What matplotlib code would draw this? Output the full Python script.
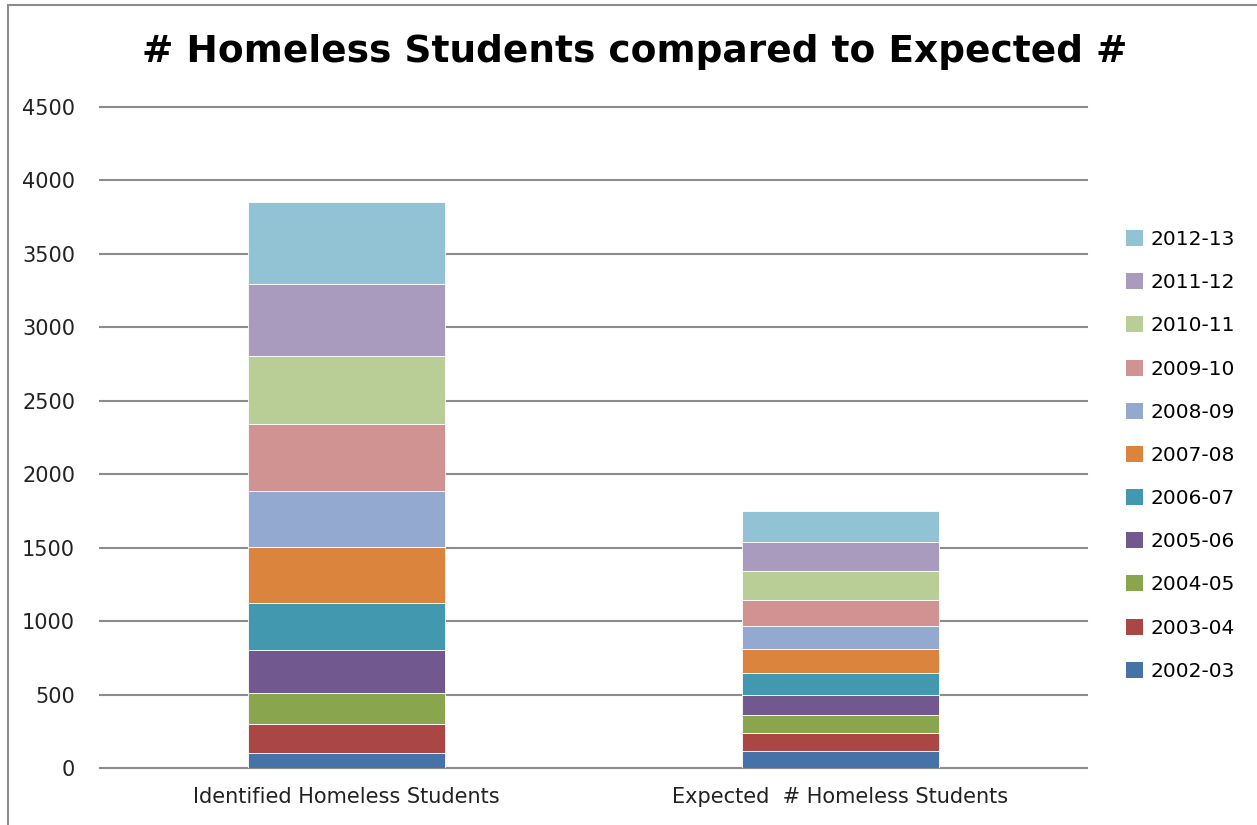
import matplotlib
matplotlib.use("Agg")
import matplotlib.pyplot as plt
from matplotlib.patches import Rectangle, Patch

categories = ["Identified Homeless Students", "Expected  # Homeless Students"]
years = ["2002-03", "2003-04", "2004-05", "2005-06", "2006-07", "2007-08",
         "2008-09", "2009-10", "2010-11", "2011-12", "2012-13"]
identified = [105, 197, 211, 287, 320, 383, 383, 457, 463, 490, 558]
expected = [118, 123, 123, 136, 150, 160, 160, 174, 197, 198, 211]
colors = ["#4572A7", "#AA4643", "#89A54E", "#71588F", "#4198AF", "#DB843D",
          "#93A9CF", "#D19392", "#B9CD96", "#A99BBD", "#92C3D4"]
yticks = [0, 500, 1000, 1500, 2000, 2500, 3000, 3500, 4000, 4500]

W, H = 1257, 825
fig = plt.figure(figsize=(W / 100, H / 100), dpi=100)
fig.patch.set_facecolor("white")

# chart frame
fig.add_artist(Rectangle((8 / W, -0.1), 1.2, (H - 5) / H + 0.1,
                         transform=fig.transFigure, fill=False,
                         edgecolor="#8c8c8c", linewidth=1.5))

ax = fig.add_axes([100 / W, (H - 768) / H, (1087 - 100) / W, (768 - 107) / H])
x = [0, 1]
bottoms = [0, 0]
for i, yr in enumerate(years):
    vals = [identified[i], expected[i]]
    ax.bar(x, vals, width=0.4, bottom=bottoms, color=colors[i],
           edgecolor="white", linewidth=0.6, label=yr, zorder=3)
    bottoms = [bottoms[0] + vals[0], bottoms[1] + vals[1]]

ax.set_xlim(-0.5, 1.5)
ax.set_ylim(0, 4500)
ax.set_yticks(yticks)
ax.set_yticklabels([str(v) for v in yticks], fontsize=15, color="#222222")
ax.set_xticks(x)
ax.set_xticklabels(categories, fontsize=15, color="#222222")
ax.tick_params(axis="y", length=0, pad=18)
ax.tick_params(axis="x", length=0, pad=14)
ax.yaxis.grid(True, color="#8c8c8c", linewidth=1.5, zorder=0)
for gl in ax.get_ygridlines():
    gl.set_clip_on(False)
ax.set_axisbelow(True)
for s in ["left", "right", "top"]:
    ax.spines[s].set_visible(False)
ax.spines["bottom"].set_color("#8c8c8c")
ax.spines["bottom"].set_linewidth(1.5)

handles = [Patch(facecolor=colors[i], label=years[i]) for i in range(len(years))][::-1]
fig.legend(handles=handles, loc="upper left", bbox_to_anchor=(1118 / W, (H - 222) / H),
           frameon=False, fontsize=14.5, handlelength=0.85, handleheight=0.85,
           handletextpad=0.35, labelspacing=1.2, borderaxespad=0)

fig.text(635 / W, (H - 52) / H, "# Homeless Students compared to Expected #",
         ha="center", va="center", fontsize=27, fontweight="bold", color="black")

fig.savefig("out.png", dpi=100)
